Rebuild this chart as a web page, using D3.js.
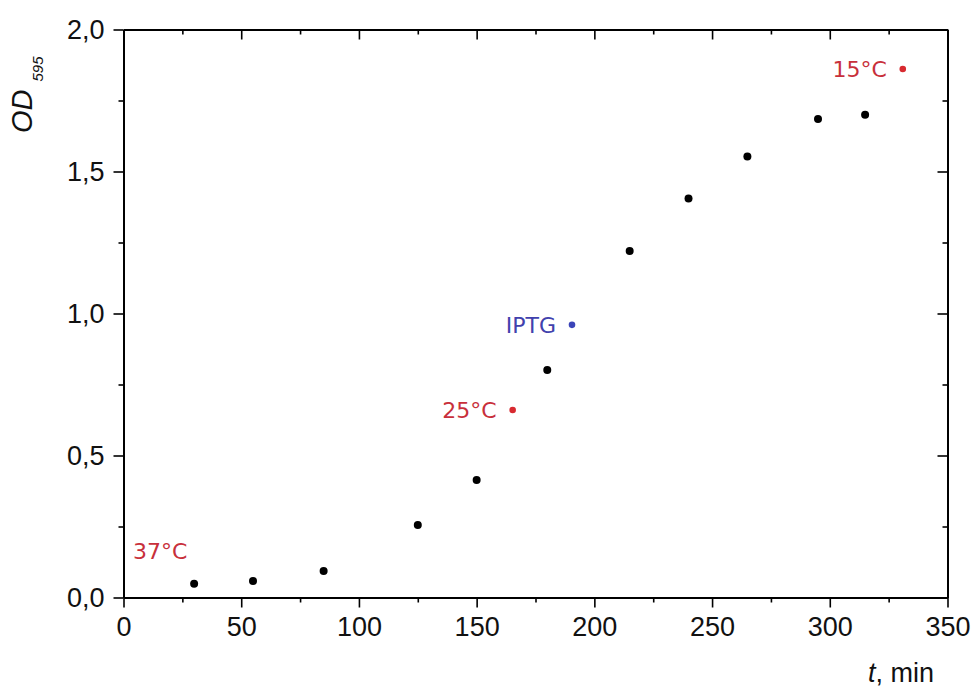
<!DOCTYPE html>
<html>
<head>
<meta charset="utf-8">
<script src="https://cdn.jsdelivr.net/npm/d3@7"></script>
<style>
  body { margin: 0; background: #fff; }
  svg { display: block; }
</style>
</head>
<body>
<div id="chart"></div>
<script>
// growth curve, OD595 vs time
const times = [30, 55, 85, 125, 150, 180, 215, 240, 265, 295, 315];
const od = [0.048, 0.058, 0.093, 0.255, 0.414, 0.801, 1.22, 1.405, 1.553, 1.685, 1.70];

// temperature shifts / induction markers
const eventLabels = ["37°C", "25°C", "IPTG", "15°C"];
const eventTimes = [4, 165.3, 190.5, 331];
const eventOD = [0.164, 0.66, 0.96, 1.861];
const eventDot = [false, true, true, true];
const eventColors = ["#c8303b", "#c8303b", "#4141ad", "#c8303b"];
const dotColors = ["#d82a30", "#d82a30", "#3b44b8", "#d82a30"];

const xTicks = [0, 50, 100, 150, 200, 250, 300, 350];
const yTicks = [0, 0.5, 1.0, 1.5, 2.0];

const W = 976, H = 687;
const plotL = 123.5, plotR = 947.5, plotT = 29.5, plotB = 597.5;

const svg = d3.select("#chart").append("svg")
  .attr("width", W)
  .attr("height", H);

const x = d3.scaleLinear().domain([0, 350]).range([plotL, plotR]);
const y = d3.scaleLinear().domain([0, 2]).range([plotB, plotT]);

const fmtY = d => d3.format(".1f")(d).replace(".", ",");
const minorX = d3.range(25, 350, 50);
const minorY = d3.range(0.25, 2, 0.5);

function styleAxis(g) {
  g.selectAll("path.domain").attr("stroke", "#000").attr("stroke-width", 2);
  g.selectAll(".tick line").attr("stroke", "#000").attr("stroke-width", 1.6);
  g.selectAll(".tick text")
    .attr("fill", "#111")
    .style("font-family", "'Liberation Sans', Arial, sans-serif")
    .style("font-size", "27px");
}

// bottom axis (outward)
svg.append("g")
  .attr("transform", "translate(0," + plotB + ")")
  .call(d3.axisBottom(x).tickValues(xTicks).tickFormat(d3.format("d")).tickSize(10).tickPadding(9).tickSizeOuter(0))
  .call(styleAxis);
svg.append("g")
  .attr("transform", "translate(0," + plotB + ")")
  .call(d3.axisBottom(x).tickValues(minorX).tickFormat("").tickSize(5).tickSizeOuter(0))
  .call(styleAxis);

// left axis (outward)
svg.append("g")
  .attr("transform", "translate(" + plotL + ",0)")
  .call(d3.axisLeft(y).tickValues(yTicks).tickFormat(fmtY).tickSize(10).tickPadding(9).tickSizeOuter(0))
  .call(styleAxis);
svg.append("g")
  .attr("transform", "translate(" + plotL + ",0)")
  .call(d3.axisLeft(y).tickValues(minorY).tickFormat("").tickSize(5).tickSizeOuter(0))
  .call(styleAxis);

// top axis (inward)
svg.append("g")
  .attr("transform", "translate(0," + plotT + ")")
  .call(d3.axisTop(x).tickValues(xTicks).tickFormat("").tickSize(-10).tickSizeOuter(0))
  .call(styleAxis);
svg.append("g")
  .attr("transform", "translate(0," + plotT + ")")
  .call(d3.axisTop(x).tickValues(minorX).tickFormat("").tickSize(-5).tickSizeOuter(0))
  .call(styleAxis);

// right axis (inward)
svg.append("g")
  .attr("transform", "translate(" + plotR + ",0)")
  .call(d3.axisRight(y).tickValues(yTicks).tickFormat("").tickSize(-10).tickSizeOuter(0))
  .call(styleAxis);
svg.append("g")
  .attr("transform", "translate(" + plotR + ",0)")
  .call(d3.axisRight(y).tickValues(minorY).tickFormat("").tickSize(-5).tickSizeOuter(0))
  .call(styleAxis);

// axis titles
const yTitle = svg.append("text")
  .attr("transform", "translate(32,133) rotate(-90)")
  .style("font-family", "'Liberation Sans', Arial, sans-serif")
  .style("font-style", "italic")
  .attr("fill", "#111");
yTitle.append("tspan").style("font-size", "29px").text("OD");
yTitle.append("tspan").style("font-size", "15px").attr("dx", 8).attr("dy", 11).text("595");

const xTitle = svg.append("text")
  .attr("x", 934)
  .attr("y", 682)
  .attr("text-anchor", "end")
  .style("font-family", "'Liberation Sans', Arial, sans-serif")
  .style("font-size", "27px")
  .attr("fill", "#111");
xTitle.append("tspan").style("font-style", "italic").text("t");
xTitle.append("tspan").text(", min");

// data points
svg.append("g").selectAll("circle")
  .data(times.map((t, i) => ({ t: t, v: od[i] })))
  .join("circle")
  .attr("cx", d => x(d.t))
  .attr("cy", d => y(d.v))
  .attr("r", 4)
  .attr("fill", "#000");

// event markers and labels
const events = eventLabels.map((l, i) => ({
  label: l, t: eventTimes[i], v: eventOD[i], dot: eventDot[i],
  color: eventColors[i], dotColor: dotColors[i]
}));

svg.append("g").selectAll("circle")
  .data(events.filter(d => d.dot))
  .join("circle")
  .attr("cx", d => x(d.t))
  .attr("cy", d => y(d.v))
  .attr("r", 3.3)
  .attr("fill", d => d.dotColor);

svg.append("g").selectAll("text")
  .data(events)
  .join("text")
  .attr("x", d => d.dot ? x(d.t) - 16 : x(d.t))
  .attr("y", d => y(d.v))
  .attr("dy", "0.36em")
  .attr("text-anchor", d => d.dot ? "end" : "start")
  .attr("fill", d => d.color)
  .style("font-family", "'DejaVu Sans', Verdana, sans-serif")
  .style("font-size", "22px")
  .text(d => d.label);
</script>
</body>
</html>
